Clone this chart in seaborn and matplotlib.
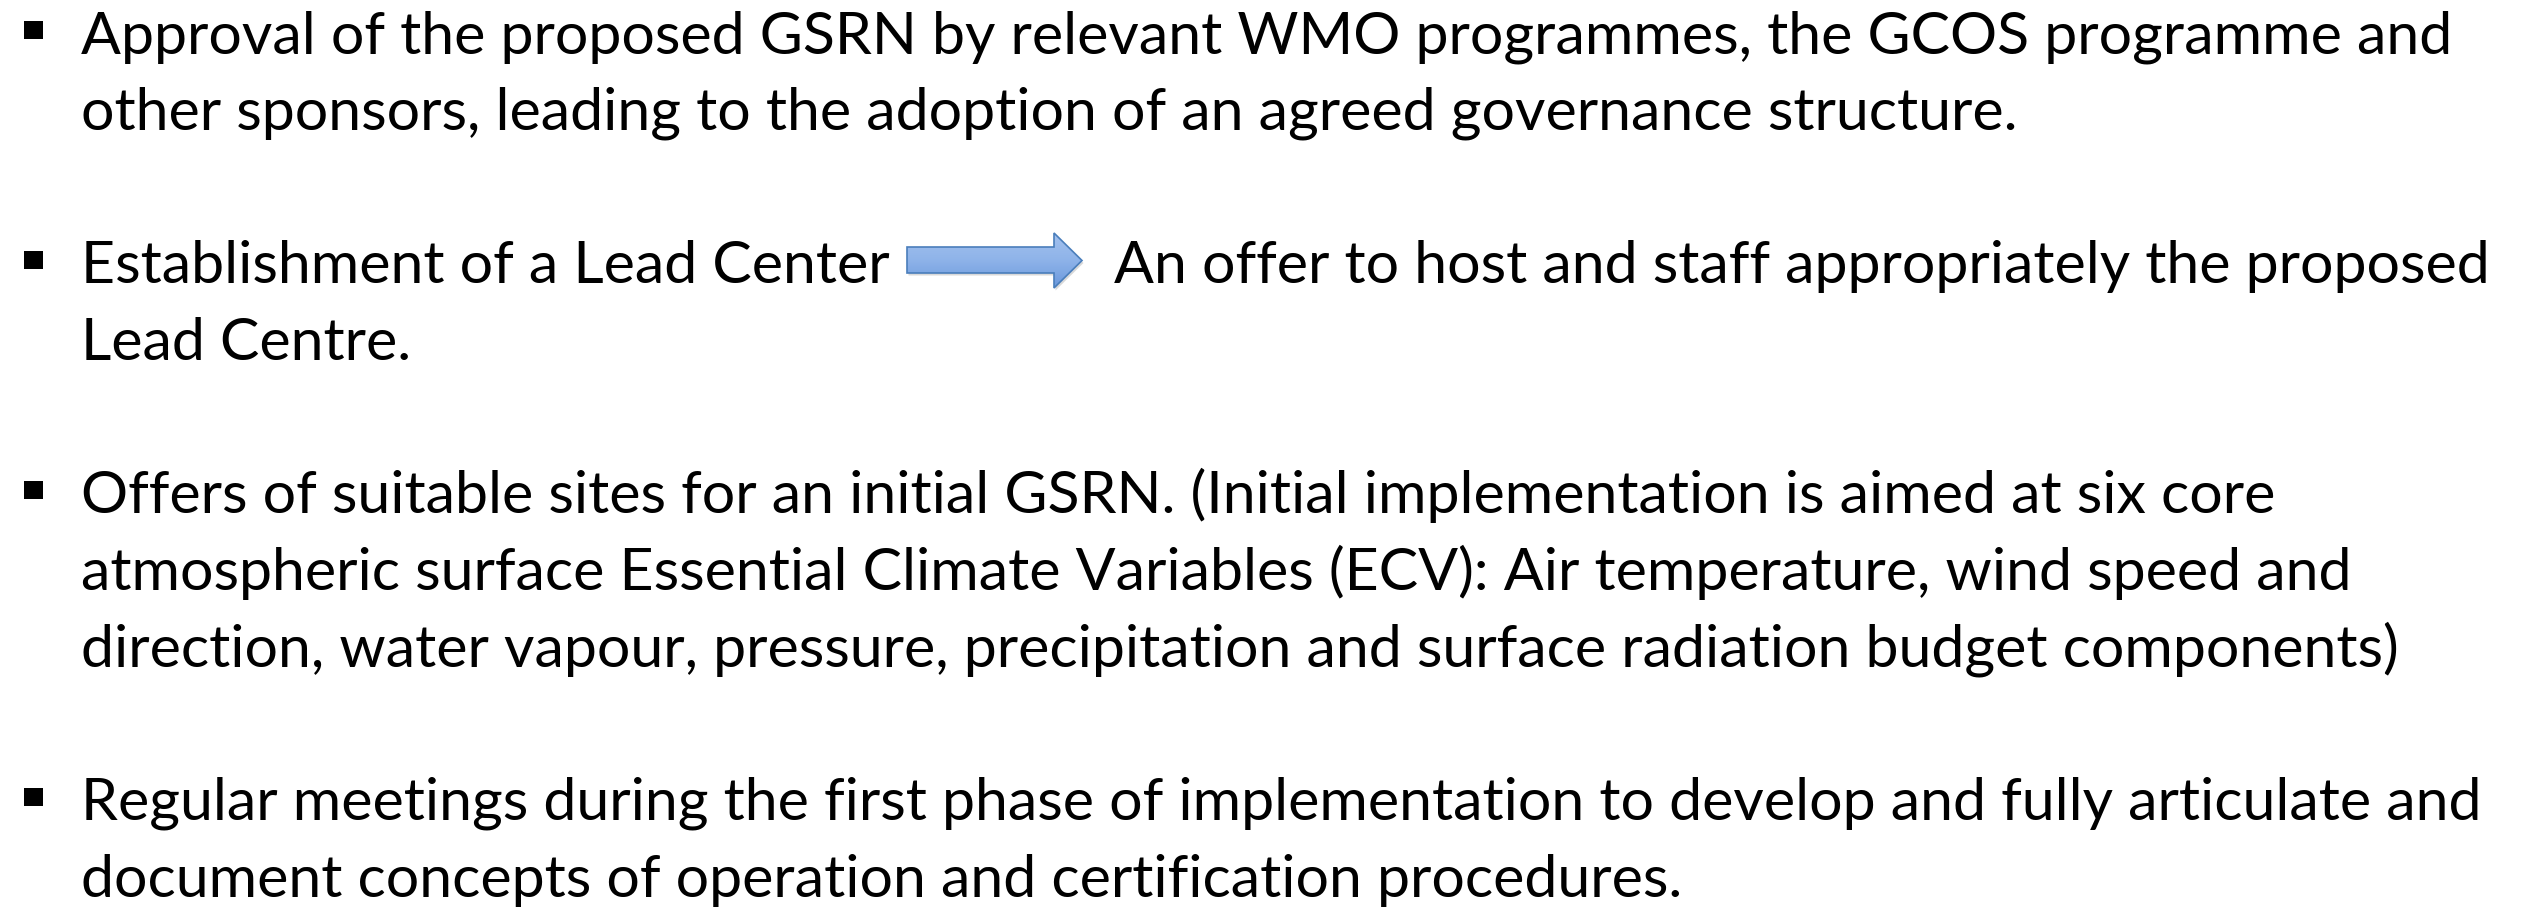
import numpy as np
import matplotlib
matplotlib.use("Agg")
import matplotlib.pyplot as plt
import seaborn as sns
from matplotlib.patches import Polygon, Rectangle
from matplotlib.colors import LinearSegmentedColormap

# slide text, one list per bullet
bullet_1 = [
    "Approval of the proposed GSRN by relevant WMO programmes, the GCOS programme and",
    "other sponsors, leading to the adoption of an agreed governance structure.",
]
bullet_2_left = "Establishment of a Lead Center"
bullet_2_right = "An offer to host and staff appropriately the proposed"
bullet_2 = [bullet_2_left, "Lead Centre."]
bullet_3 = [
    "Offers of suitable sites for an initial GSRN. (Initial implementation is aimed at six core",
    "atmospheric surface Essential Climate Variables (ECV): Air temperature, wind speed and",
    "direction, water vapour, pressure, precipitation and surface radiation budget components)",
]
bullet_4 = [
    "Regular meetings during the first phase of implementation to develop and fully articulate and",
    "document concepts of operation and certification procedures.",
]
bullets = [bullet_1, bullet_2, bullet_3, bullet_4]
# which text row each bullet starts on (blank row between bullets)
start_rows = [0, 3, 6, 10]

sns.set_theme(style="white")
plt.rcParams["font.family"] = ["Lato", "DejaVu Sans"]

W, H = 2524, 907
fig = plt.figure(figsize=(W / 100, H / 100), dpi=100)
ax = fig.add_axes([0, 0, 1, 1])
ax.set_xlim(0, W)
ax.set_ylim(H, 0)
ax.axis("off")

text_x = 81
first_base = 53
row_step = 76.7

# fit the font size to the widths of the long lines on the slide
fit_lines = [bullet_1[0], bullet_3[0], bullet_3[1], bullet_3[2], bullet_4[0]]
fit_widths = [2342, 2190, 2272, 2333, 2416]
renderer = fig.canvas.get_renderer()
measured = 0
for line in fit_lines:
    probe = ax.text(0, 0, line, fontsize=40)
    measured += probe.get_window_extent(renderer).width
    probe.remove()
fsize = 40 * sum(fit_widths) / measured

for lines, row0 in zip(bullets, start_rows):
    base0 = first_base + row0 * row_step
    ax.add_patch(Rectangle((24, base0 - 32), 19, 18, color="black", lw=0))
    for i, line in enumerate(lines):
        ax.text(text_x, base0 + i * row_step, line, fontsize=fsize,
                va="baseline", ha="left", color="black")

# second half of the "Lead Center" line, after the arrow
base_arrow = first_base + start_rows[1] * row_step
ax.text(1114, base_arrow, bullet_2_right, fontsize=fsize,
        va="baseline", ha="left", color="black")

# block arrow with a blue gradient fill and a faint shadow
x0, x1, x2 = 907, 1054, 1082
yb0, yb1 = 247, 273
yh0, yh1 = 233, 288
ymid = (yh0 + yh1) / 2
pts = [(x0, yb0), (x1, yb0), (x1, yh0), (x2, ymid), (x1, yh1), (x1, yb1), (x0, yb1)]
shadow = Polygon([(x + 1.5, y + 2.5) for x, y in pts], closed=True,
                 facecolor="#d9d9d9", edgecolor="none", zorder=1)
ax.add_patch(shadow)
arrow = Polygon(pts, closed=True, facecolor="none", edgecolor="#4a7ebb", lw=1.2, zorder=3)
ax.add_patch(arrow)
cmap = LinearSegmentedColormap.from_list("arr", ["#a3c1ee", "#8eb3e9", "#6a98dc"])
grad = np.linspace(0, 1, 64).reshape(-1, 1)
img = ax.imshow(grad, cmap=cmap, extent=(x0, x2, yh1, yh0), aspect="auto", zorder=2)
img.set_clip_path(arrow)
ax.set_xlim(0, W)
ax.set_ylim(H, 0)

fig.savefig("out.png", dpi=100, facecolor="white")
